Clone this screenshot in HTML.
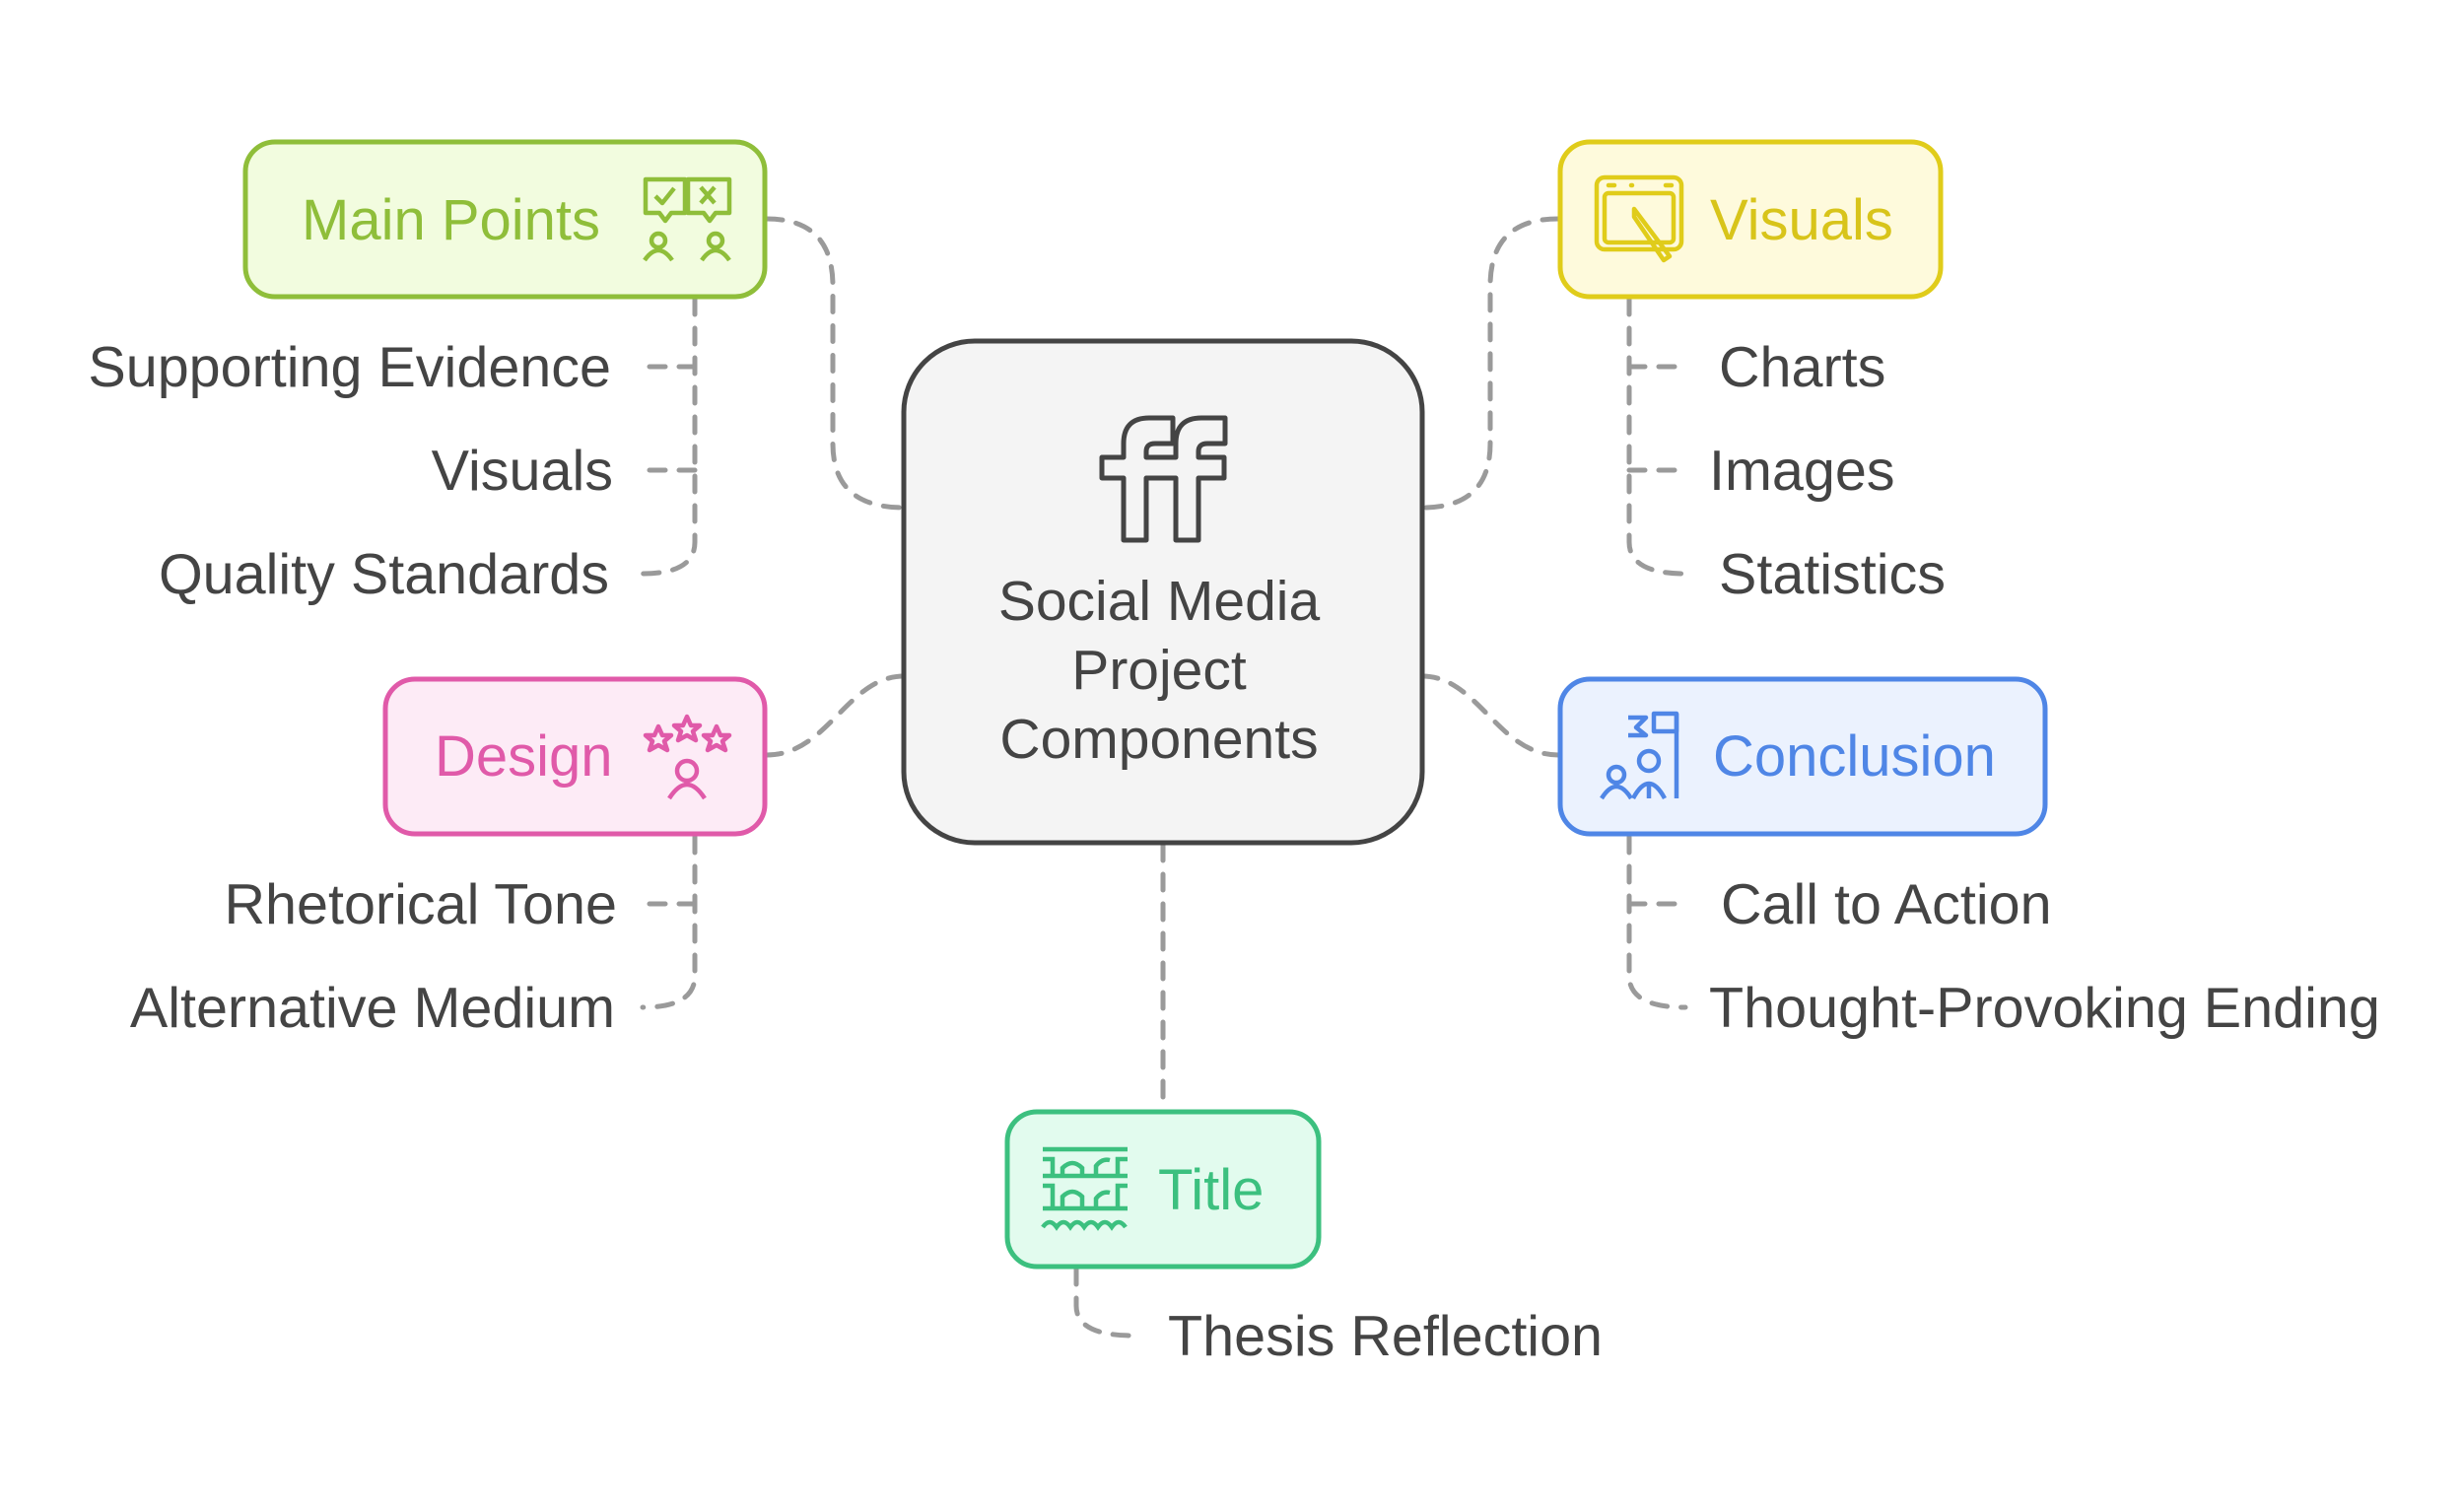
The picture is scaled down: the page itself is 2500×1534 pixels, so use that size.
<!DOCTYPE html>
<html><head><meta charset="utf-8"><style>
html,body{margin:0;padding:0;background:#fff}
svg{display:block}
text{font-family:"Liberation Sans",Arial,sans-serif}
</style></head><body>
<svg width="2500" height="1534" viewBox="0 0 2500 1534" xmlns="http://www.w3.org/2000/svg">
<rect width="2500" height="1534" fill="#fff"/>
<g fill="none" stroke="#9a9a9a" stroke-width="5" stroke-dasharray="16 14" stroke-linecap="round">
<path d="M778,222 Q845,222 845,290 L845,450 Q845,515 917,515"/>
<path d="M1581,222 Q1512,222 1512,290 L1512,450 Q1512,515 1443,515"/>
<path d="M917,686 C860,686 840,766 778,766"/>
<path d="M1443,686 C1500,686 1520,766 1581,766"/>
<path d="M1180,857 L1180,1124"/>
<path d="M705,303 L705,550 Q705,582 652,582"/>
<path d="M705,372 L652,372 M705,477 L652,477"/>
<path d="M1653,303 L1653,550 Q1653,582 1710,582"/>
<path d="M1653,372 L1710,372 M1653,477 L1710,477"/>
<path d="M705,849 L705,990 Q705,1022 652,1022"/>
<path d="M705,917 L652,917"/>
<path d="M1653,849 L1653,990 Q1653,1022 1710,1022"/>
<path d="M1653,917 L1710,917"/>
<path d="M1092,1287 L1092,1325 Q1092,1355 1150,1355"/>
</g>
<rect x="917" y="346" width="526" height="509" rx="72" fill="#f4f4f4" stroke="#444" stroke-width="5"/>
<path d="M1140,548 L1140,485 L1118,485 L1118,464 L1140,464 L1140,450 Q1140,424 1166,424 L1190,424 L1190,450 L1172,450 Q1163,450 1163,458 L1163,464 L1193,464 L1193,450 Q1193,424 1219,424 L1243,424 L1243,450 L1225,450 Q1216,450 1216,458 L1216,464 L1242,464 L1242,485 L1216,485 L1216,548 L1193,548 L1193,485 L1163,485 L1163,548 Z" fill="none" stroke="#444" stroke-width="5" stroke-linejoin="round"/>
<g font-size="57" fill="#444" text-anchor="middle">
<text x="1176" y="629">Social Media</text>
<text x="1176" y="699">Project</text>
<text x="1176" y="769">Components</text>
</g>
<rect x="249" y="144" width="527" height="157" rx="30" fill="#f2fcdf" stroke="#8fbe3a" stroke-width="5"/>
<text x="306" y="243" font-size="58" fill="#8fbe3a">Main Points</text>
<g fill="none" stroke="#8fbe3a" stroke-width="4.5" stroke-linejoin="round">
<path d="M655,182 h40 v34 h-14 l-6,8 l-6,-8 h-14 z"/><path d="M698,182 h42 v34 h-14 l-6,8 l-6,-8 h-16 z"/>
<path d="M665,199 l7,7 l12,-15"/><path d="M711,190 l14,16 M725,190 l-14,16"/>
<circle cx="668" cy="244" r="7"/><path d="M654,264 q14,-20 28,0"/>
<circle cx="726" cy="244" r="7"/><path d="M712,264 q14,-20 28,0"/>
</g>
<rect x="1583" y="144" width="386" height="157" rx="30" fill="#fefadc" stroke="#e0cc1a" stroke-width="5"/>
<text x="1735" y="243" font-size="58" fill="#d8c41a">Visuals</text>
<g fill="none" stroke="#e0cc1a" stroke-width="4.5" stroke-linejoin="round" stroke-linecap="round">
<rect x="1620" y="180" width="86" height="73" rx="8"/>
<rect x="1628" y="196" width="70" height="50" rx="4"/>
<path d="M1632,188 h6 M1655,188 h1 M1690,188 h6"/>
<path d="M1658,212 l36,48 l-6,4 l-30,-44 z"/>
</g>
<rect x="391" y="689" width="385" height="157" rx="30" fill="#fdebf6" stroke="#e05aa9" stroke-width="5"/>
<text x="441" y="787" font-size="58" fill="#e05aa9">Design</text>
<g fill="none" stroke="#e05aa9" stroke-width="4.5" stroke-linejoin="round">
<path d="M697,727 l4,9 l9,0 l-7,6 l3,9 l-9,-5 l-9,5 l3,-9 l-7,-6 l9,0 z"/>
<path d="M668,737 l4,9 l9,0 l-7,6 l3,9 l-9,-5 l-9,5 l3,-9 l-7,-6 l9,0 z"/>
<path d="M727,737 l4,9 l9,0 l-7,6 l3,9 l-9,-5 l-9,5 l3,-9 l-7,-6 l9,0 z"/>
<circle cx="697" cy="782" r="10"/><path d="M679,810 q18,-28 36,0"/>
</g>
<rect x="1583" y="689" width="492" height="157" rx="30" fill="#ebf2fe" stroke="#4f86e6" stroke-width="5"/>
<text x="1738" y="787" font-size="58" fill="#4f86e6">Conclusion</text>
<g fill="none" stroke="#4f86e6" stroke-width="4.5" stroke-linejoin="round">
<path d="M1701,724 v86"/><path d="M1678,724 h23 v18 h-23 z"/><path d="M1652,728 h18 l-10,10 l10,8 h-18"/>
<circle cx="1673" cy="772" r="10"/><path d="M1657,810 q16,-30 32,0 M1673,795 v15"/>
<circle cx="1640" cy="786" r="8"/><path d="M1625,810 q15,-24 30,0"/>
</g>
<rect x="1022" y="1128" width="316" height="157" rx="30" fill="#e2fbee" stroke="#3cc07f" stroke-width="5"/>
<text x="1175" y="1227" font-size="58" fill="#3cc07f">Title</text>
<g fill="none" stroke="#3cc07f" stroke-width="4.5">
<path d="M1058,1166 h86 M1058,1193 h86 M1058,1226 h86"/>
<path d="M1058,1176 h10 v17 M1078,1193 v-8 q10,-10 20,0 v8 M1144,1176 h-10 v17 M1112,1193 v-10 q6,-8 14,-6"/>
<path d="M1058,1203 h10 v23 M1078,1226 v-12 q10,-10 20,0 v12 M1144,1203 h-10 v23 M1112,1226 v-10 q6,-8 14,-6"/>
<path d="M1058,1245 q7,-10 14,0 q7,-10 14,0 q7,-10 14,0 q7,-10 14,0 q7,-10 14,0 q7,-10 14,0"/>
</g>
<g font-size="57.5" fill="#444">
<g text-anchor="end">
<text x="620" y="392">Supporting Evidence</text>
<text x="622" y="497">Visuals</text>
<text x="618" y="602">Quality Standards</text>
<text x="626" y="937">Rhetorical Tone</text>
<text x="624" y="1042">Alternative Medium</text>
</g>
<text x="1744" y="392">Charts</text>
<text x="1734" y="497">Images</text>
<text x="1744" y="602">Statistics</text>
<text x="1746" y="937">Call to Action</text>
<text x="1734" y="1042">Thought-Provoking Ending</text>
<text x="1185" y="1375">Thesis Reflection</text>
</g>
</svg>
</body></html>
